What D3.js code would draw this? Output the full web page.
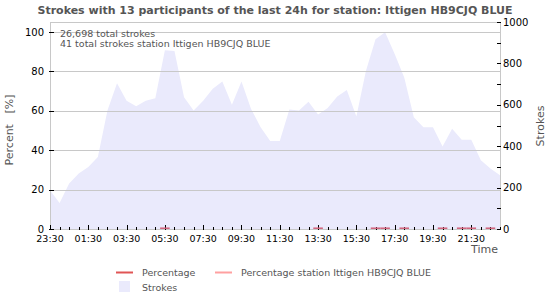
<!DOCTYPE html>
<html>
<head>
<meta charset="utf-8">
<script src="https://cdn.jsdelivr.net/npm/d3@7"></script>
<style>
  body { margin: 0; background: #fff; }
  svg { font-family: "DejaVu Sans", sans-serif; }
</style>
</head>
<body>
<div id="chart"></div>
<script>
// Strokes every 30 min, from 23:30 to 23:00 the next day
const startTime = '2024-01-01T23:30';
const strokes = [187, 126, 220, 268, 300, 348, 572, 704, 620, 593, 620, 632,
  863, 860, 636, 572, 620, 677, 713, 600, 713, 580, 492, 425,
  425, 577, 572, 615, 553, 585, 640, 672, 543, 765, 917, 950,
  845, 732, 540, 492, 492, 399, 484, 431, 431, 332, 292, 260];
// Percentage of station strokes (0 = none)
const stationPct = [0, 0, 0, 0, 0, 0, 0, 0, 0, 0, 0, 0,
  0.4, 0, 0, 0, 0, 0, 0, 0, 0, 0, 0, 0,
  0, 0, 0, 0, 0.4, 0, 0, 0, 0, 0, 0.4, 0.4,
  0, 0.4, 0, 0, 0, 0.4, 0, 0.4, 0.4, 0, 0.4, 0];
const pctTicks = [0, 20, 40, 60, 80, 100];
const strokeTicks = [0, 200, 400, 600, 800, 1000];
const strokeMinor = [100, 300, 500, 700, 900];
const titleText = 'Strokes with 13 participants of the last 24h for station: Ittigen HB9CJQ BLUE';
const infoLines = ['26,698 total strokes', '41 total strokes station Ittigen HB9CJQ BLUE'];
const legendItems = [
  { label: 'Percentage', type: 'line', color: '#e05555' },
  { label: 'Percentage station Ittigen HB9CJQ BLUE', type: 'line', color: '#ffa0a0' },
  { label: 'Strokes', type: 'box', color: '#eaeafc' }
];

const t0 = new Date(startTime);
const data = strokes.map((v, i) => ({
  t: new Date(t0.getTime() + i * 30 * 60000),
  strokes: v,
  pct: stationPct[i]
}));

const W = 550, H = 300;
const pLeft = 50, pRight = 500, pTop = 22, pBottom = 229;

const svg = d3.select('#chart').append('svg')
  .attr('width', W).attr('height', H);

const x = d3.scaleTime()
  .domain(d3.extent(data, d => d.t))
  .range([pLeft, pRight]);
const yL = d3.scaleLinear().domain([0, 100]).range([pBottom, 32]);
const yR = d3.scaleLinear().domain([0, 1000]).range([pBottom, pTop]);

// Titre
svg.append('text')
  .attr('x', 275).attr('y', 14)
  .attr('text-anchor', 'middle')
  .style('font-size', '11px').style('font-weight', 'bold')
  .style('fill', '#555')
  .text(titleText);

// Aire des strokes
const area = d3.area()
  .x(d => x(d.t))
  .y0(pBottom)
  .y1(d => yR(d.strokes));
svg.append('path')
  .datum(data)
  .attr('d', area)
  .attr('fill', '#eaeafc');

// Grille horizontale
svg.append('g')
  .selectAll('line')
  .data(pctTicks)
  .join('line')
  .attr('x1', pLeft).attr('x2', pRight)
  .attr('y1', d => Math.round(yL(d)) + 0.5)
  .attr('y2', d => Math.round(yL(d)) + 0.5)
  .attr('stroke', '#c8c8c8');

// Cadre
svg.append('rect')
  .attr('x', pLeft + 0.5).attr('y', pTop + 0.5)
  .attr('width', pRight - pLeft).attr('height', pBottom - pTop)
  .attr('fill', 'none').attr('stroke', '#c8c8c8');

// Axe gauche
const gL = svg.append('g');
gL.selectAll('line')
  .data(pctTicks)
  .join('line')
  .attr('x1', pLeft - 1).attr('x2', pLeft + 4)
  .attr('y1', d => Math.round(yL(d)) + 0.5)
  .attr('y2', d => Math.round(yL(d)) + 0.5)
  .attr('stroke', '#000');
gL.selectAll('text')
  .data(pctTicks)
  .join('text')
  .attr('x', pLeft - 6)
  .attr('y', d => yL(d) + 3.5)
  .attr('text-anchor', 'end')
  .style('font-size', '10px')
  .text(d => d);

// Axe droit
const gR = svg.append('g');
gR.selectAll('line')
  .data(strokeTicks.concat(strokeMinor))
  .join('line')
  .attr('x1', pRight - 3).attr('x2', pRight + 1)
  .attr('y1', d => Math.round(yR(d)) + 0.5)
  .attr('y2', d => Math.round(yR(d)) + 0.5)
  .attr('stroke', '#000');
gR.selectAll('text')
  .data(strokeTicks)
  .join('text')
  .attr('x', pRight + 3)
  .attr('y', d => yR(d) + 3.5)
  .style('font-size', '10px')
  .text(d => d);

// Axe du temps
const xTicks = d3.timeMinute.every(30).range(x.domain()[0], new Date(x.domain()[1].getTime() + 1));
const gX = svg.append('g');
gX.selectAll('line')
  .data(xTicks)
  .join('line')
  .attr('x1', d => Math.round(x(d)) + 0.5)
  .attr('x2', d => Math.round(x(d)) + 0.5)
  .attr('y1', (d, i) => i % 4 === 0 ? pBottom - 4 : pBottom - 2)
  .attr('y2', pBottom + 1)
  .attr('stroke', '#000');
gX.selectAll('text')
  .data(xTicks.filter((d, i) => i % 4 === 0))
  .join('text')
  .attr('x', d => x(d))
  .attr('y', pBottom + 13)
  .attr('text-anchor', 'middle')
  .style('font-size', '9.5px')
  .text(d3.timeFormat('%H:%M'));

// Pourcentage station (petits segments)
svg.append('g')
  .selectAll('line')
  .data(data.filter(d => d.pct > 0))
  .join('line')
  .attr('x1', d => x(new Date(d.t.getTime() - 15 * 60000)))
  .attr('x2', d => x(new Date(d.t.getTime() + 15 * 60000)))
  .attr('y1', d => yL(d.pct))
  .attr('y2', d => yL(d.pct))
  .attr('stroke', '#d0607a')
  .attr('stroke-width', 1.5);

// Labels des axes
svg.append('text')
  .attr('transform', 'translate(13,130) rotate(-90)')
  .attr('text-anchor', 'middle')
  .style('font-size', '11px').style('fill', '#555')
  .attr('xml:space', 'preserve')
  .text('Percent   [%]');
svg.append('text')
  .attr('transform', 'translate(544,126) rotate(-90)')
  .attr('text-anchor', 'middle')
  .style('font-size', '11px').style('fill', '#555')
  .text('Strokes');
svg.append('text')
  .attr('x', 498).attr('y', 253)
  .attr('text-anchor', 'end')
  .style('font-size', '11px').style('fill', '#555')
  .text('Time');

// Infos
svg.append('g')
  .selectAll('text')
  .data(infoLines)
  .join('text')
  .attr('x', 60)
  .attr('y', (d, i) => 37 + i * 10)
  .style('font-size', '9.5px').style('fill', '#555')
  .text(d => d);

// Légende
const lgPos = [[116, 272], [215, 272], [116, 287]];
const lg = svg.append('g');
legendItems.forEach((it, i) => {
  const [lx, ly] = lgPos[i];
  if (it.type === 'line') {
    lg.append('line')
      .attr('x1', lx).attr('x2', lx + 17)
      .attr('y1', ly + 0.5).attr('y2', ly + 0.5)
      .attr('stroke', it.color).attr('stroke-width', 2);
  } else {
    lg.append('rect')
      .attr('x', lx + 3).attr('y', ly - 6)
      .attr('width', 11).attr('height', 11)
      .attr('fill', it.color);
  }
  lg.append('text')
    .attr('x', lx + 26).attr('y', ly + 4)
    .style('font-size', '9.5px').style('fill', '#555')
    .text(it.label);
});
</script>
</body>
</html>
